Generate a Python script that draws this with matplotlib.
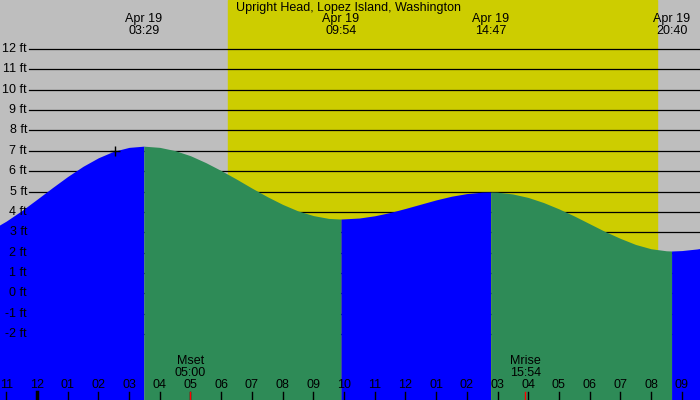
import matplotlib
matplotlib.use('Agg')
import matplotlib.pyplot as plt
import matplotlib.transforms as mtransforms

plt.rcParams['font.family'] = ['Liberation Sans', 'DejaVu Sans']

TITULO = 'Upright Head, Lopez Island, Washington'

# hours since midnight of Apr 19, heights in ft
HORAS = [-1.5, -1.0, -0.5, 0.0, 0.5, 1.0, 1.5, 2.0, 2.5, 3.0, 3.48,
         4.0, 4.5, 5.0, 5.5, 6.0, 6.5, 7.0, 7.5, 8.0, 8.5, 9.0, 9.5, 9.9,
         10.5, 11.0, 11.5, 12.0, 12.5, 13.0, 13.5, 14.0, 14.5, 14.78,
         15.0, 15.5, 16.0, 16.5, 17.0, 17.5, 18.0, 18.5, 19.0, 19.5, 20.0, 20.5, 20.67,
         21.0, 21.5, 22.0]
ALTURAS = [3.11, 3.55, 4.06, 4.62, 5.19, 5.74, 6.24, 6.66, 6.98, 7.17, 7.23,
           7.17, 7.01, 6.76, 6.42, 6.03, 5.61, 5.17, 4.75, 4.37, 4.05, 3.82, 3.68, 3.65,
           3.70, 3.81, 3.97, 4.17, 4.38, 4.59, 4.77, 4.90, 4.97, 4.98,
           4.97, 4.88, 4.71, 4.46, 4.15, 3.80, 3.42, 3.04, 2.70, 2.40, 2.19, 2.09, 2.08,
           2.10, 2.18, 2.30]

EXTREMOS = [3.48, 9.9, 14.78, 20.67]
ETIQ_EXTREMOS = ['03:29', '09:54', '14:47', '20:40']

AMANECER, ATARDECER = 6.22, 20.2
LUNA = [(5.0, 'Mset', '05:00'), (15.9, 'Mrise', '15:54')]

NIVELES = list(range(-2, 13))
HORAS_TICKS = list(range(-1, 22))

X0, X1 = -1.205, 21.596
Y0, Y1 = -5.24, 14.41

GRIS = '#bebebe'
AMARILLO = '#cdcd00'
AZUL = '#0000ff'
VERDE = '#2e8b57'

fig = plt.figure(figsize=(7, 4), dpi=100)
ax = fig.add_axes([0, 0, 1, 1])
ax.set_facecolor(GRIS)
ax.set_xlim(X0, X1)
ax.set_ylim(Y0, Y1)
ax.axis('off')
fig.patch.set_facecolor(GRIS)

ax.axvspan(AMANECER, ATARDECER, color=AMARILLO, zorder=1)

tr_y = mtransforms.blended_transform_factory(ax.transAxes, ax.transData)
for n in NIVELES:
    ax.axhline(n, xmin=29 / 700, xmax=1, color='k', lw=0.9, zorder=2)
    ax.text(27 / 700, n, '%d ft' % n, transform=tr_y, ha='right', va='center', fontsize=9, zorder=6)

# tide fill, split at each high/low
cortes = [HORAS[0]] + EXTREMOS + [HORAS[-1]]
for a, b in zip(cortes[:-1], cortes[1:]):
    xs = [h for h in HORAS if a <= h <= b]
    ys = [ALTURAS[HORAS.index(h)] for h in xs]
    color = AZUL if ys[-1] > ys[0] else VERDE
    ax.fill_between(xs, Y0, ys, color=color, lw=0, zorder=3)

ax.plot([2.54], [7.0], marker='+', color='k', ms=7, mew=1, zorder=4)

tr = mtransforms.blended_transform_factory(ax.transData, ax.transAxes)
ax.text(0.5 * (X0 + X1) - 0.05, 1 - 7.5 / 400, TITULO, transform=tr, ha='center', va='center', fontsize=9)
for t, lab in zip(EXTREMOS, ETIQ_EXTREMOS):
    ax.text(t, 1 - 19 / 400, 'Apr 19', transform=tr, ha='center', va='center', fontsize=9)
    ax.text(t, 1 - 31 / 400, lab, transform=tr, ha='center', va='center', fontsize=9)

for h in HORAS_TICKS:
    etiqueta = '%02d' % ((h - 1) % 12 + 1)
    ax.text(h, 1 - 385 / 400, etiqueta, transform=tr, ha='center', va='center', fontsize=9, zorder=5)
    ax.plot([h, h], [0, 8 / 400], transform=tr, color='k', lw=2.5 if h % 24 == 0 else 1, zorder=5)

for t, nombre, hora in LUNA:
    ax.text(t, 1 - 361 / 400, nombre, transform=tr, ha='center', va='center', fontsize=9, zorder=5)
    ax.text(t, 1 - 373 / 400, hora, transform=tr, ha='center', va='center', fontsize=9, zorder=5)
    ax.plot([t, t], [0, 8 / 400], transform=tr, color='red', lw=1, zorder=5)

plt.savefig('out.png', dpi=100, facecolor=GRIS)
